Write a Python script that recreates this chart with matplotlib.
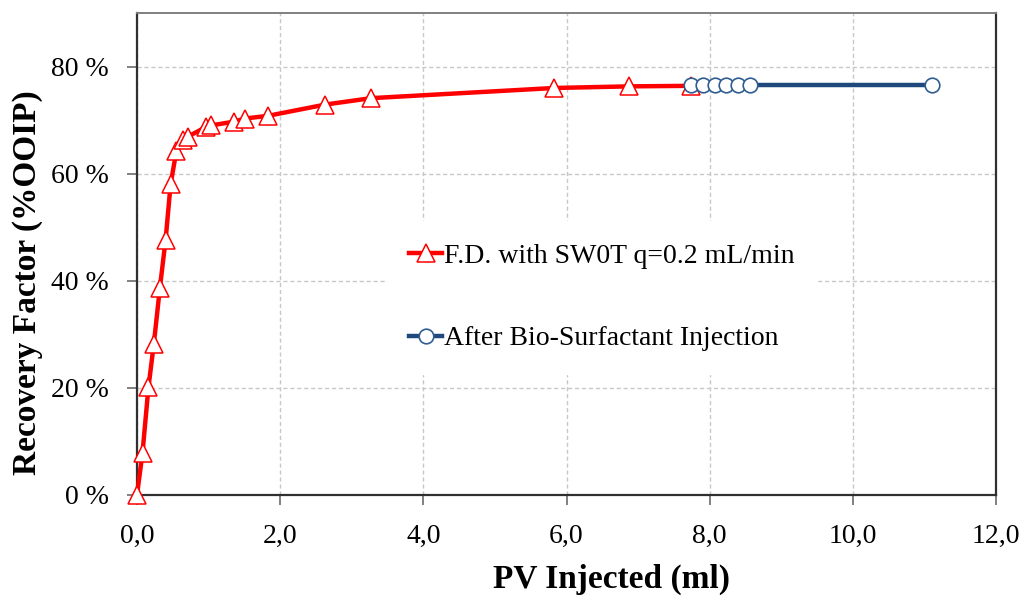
import matplotlib.pyplot as plt
from matplotlib.ticker import FuncFormatter, MultipleLocator

plt.rcParams['font.family'] = ['Liberation Serif', 'DejaVu Serif']

# flooding data
pv_fd = [0, 0.077, 0.16, 0.235, 0.32, 0.40, 0.47, 0.55, 0.64, 0.71, 0.96, 1.03,
         1.35, 1.51, 1.83, 2.63, 3.27, 5.83, 6.87, 7.74]
rf_fd = [0, 7.9, 20.1, 28.2, 38.7, 47.7, 58.1, 64.2, 66.2, 66.9, 68.7, 69.0,
         69.7, 70.3, 70.8, 72.9, 74.1, 76.0, 76.3, 76.4]

pv_bio = [7.74, 7.90, 8.07, 8.23, 8.39, 8.56, 11.10]
rf_bio = [76.5, 76.5, 76.5, 76.5, 76.5, 76.5, 76.5]

label_fd = 'F.D. with SW0T q=0.2 mL/min'
label_bio = 'After Bio-Surfactant Injection'

fig = plt.figure(figsize=(10.24, 5.96), dpi=100)
ax = fig.add_axes([137 / 1024, 1 - 495 / 596, (996 - 137) / 1024, (495 - 13) / 596])

ax.plot(pv_fd, rf_fd, color='#ff0000', lw=3.2, marker='^', markersize=12.5,
        markerfacecolor='white', markeredgecolor='#ff0000', markeredgewidth=1.1,
        label=label_fd, zorder=3, clip_on=False)
ax.plot(pv_bio, rf_bio, color='#1f497d', lw=3.2, marker='o', markersize=10.5,
        markerfacecolor='white', markeredgecolor='#2f5d92', markeredgewidth=1.2,
        label=label_bio, zorder=4)

ax.set_xlim(0, 12)
ax.set_ylim(0, 90)
ax.xaxis.set_major_locator(MultipleLocator(2))
ax.set_yticks([0, 20, 40, 60, 80])
ax.xaxis.set_major_formatter(FuncFormatter(lambda v, p: f'{v:.1f}'.replace('.', ',')))
ax.yaxis.set_major_formatter(FuncFormatter(lambda v, p: f'{int(round(v))} %'))

ax.grid(True, color='#c8c8c8', linestyle=(0, (3, 2)), linewidth=1)
ax.set_axisbelow(True)

for side in ['left', 'bottom', 'right']:
    ax.spines[side].set_color('#303030')
    ax.spines[side].set_linewidth(1.6)
ax.spines['top'].set_color('#808080')
ax.spines['top'].set_linewidth(1.4)

ax.tick_params(axis='both', direction='out', length=7, width=1.4, color='#808080',
               labelsize=20)
ax.tick_params(axis='y', pad=13)
ax.tick_params(axis='x', pad=14)

ax.set_xlabel('PV Injected (ml)', fontsize=24, fontweight='bold', va='center')
ax.set_ylabel('Recovery Factor (%OOIP)', fontsize=24, fontweight='bold', va='center')
ax.xaxis.set_label_coords(0.552, -0.176)
ax.yaxis.set_label_coords(-0.127, 0.441)

leg = ax.legend(loc='center', bbox_to_anchor=(0.541, 0.41), fontsize=20,
                frameon=True, framealpha=1, edgecolor='white', fancybox=False,
                handlelength=1.2, handletextpad=0.05, labelspacing=2.05,
                borderpad=0.8, markerscale=1.0)

fig.savefig('out.png', dpi=100)
